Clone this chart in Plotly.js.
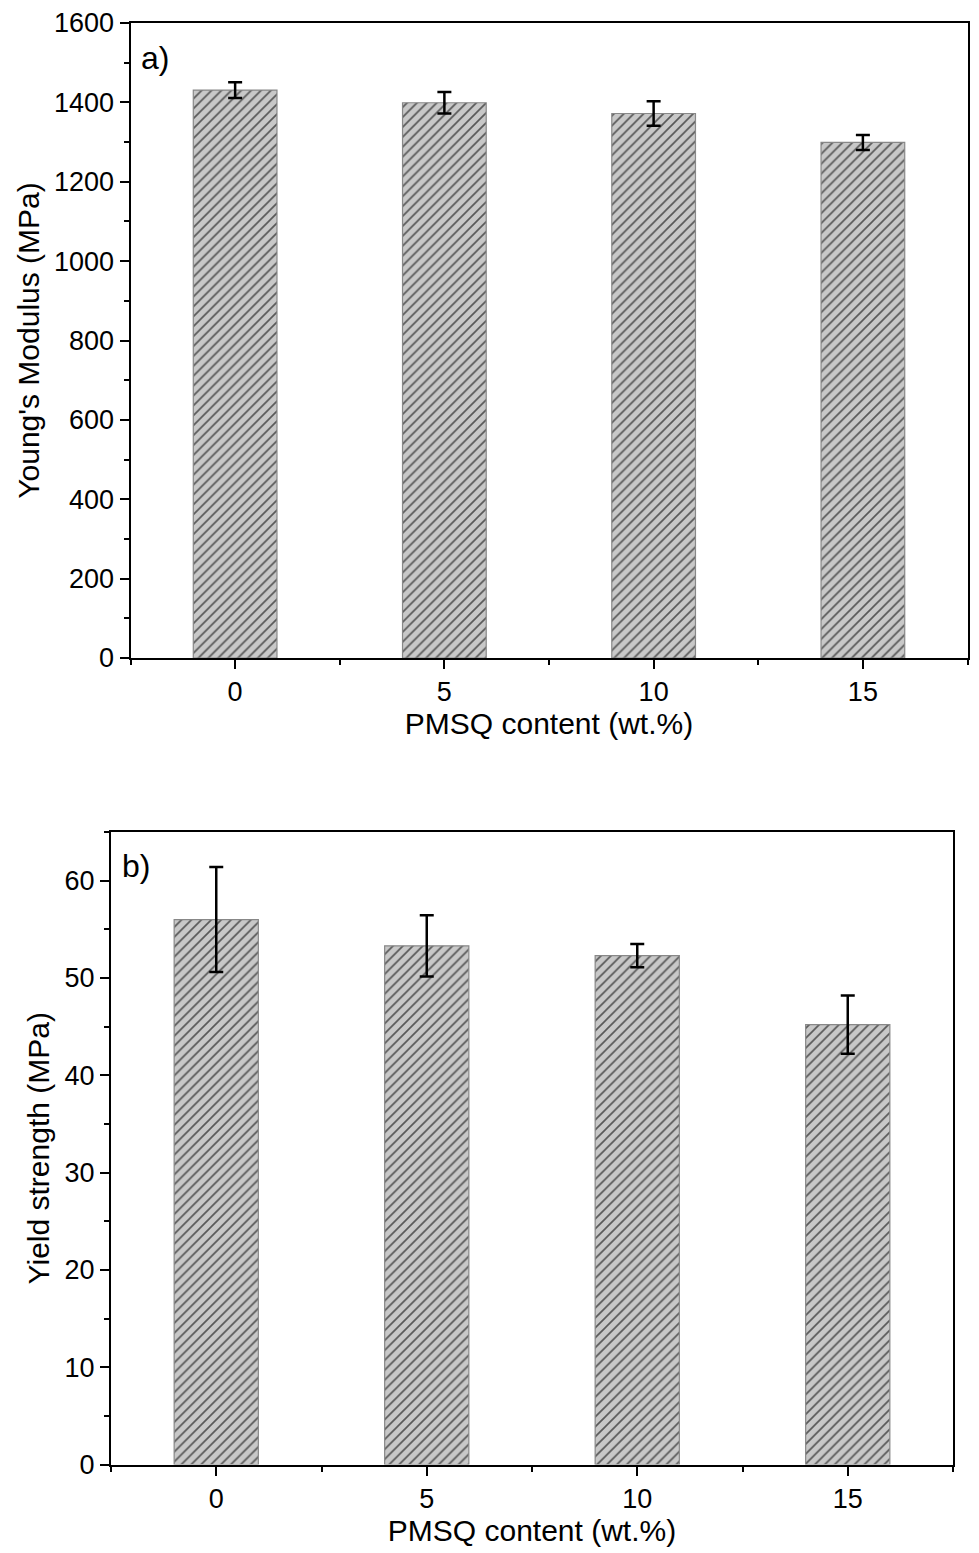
<!DOCTYPE html>
<html>
<head>
<meta charset="utf-8">
<script src="https://cdn.plot.ly/plotly-3.0.1.min.js"></script>
<style>html,body{margin:0;padding:0;background:#fff;}#chart{width:979px;height:1553px;}</style>
</head>
<body>
<div id="chart"></div>
<script>
const categories = [0, 5, 10, 15];
const tickLabels = ['0', '5', '10', '15'];
const youngsModulus = [1431, 1399, 1372, 1299];
const youngsError = [20, 27, 31, 19];
const yieldStrength = [56.0, 53.3, 52.3, 45.2];
const yieldError = [5.4, 3.15, 1.2, 3.0];

const FONT = 'Liberation Sans, Arial, sans-serif';
const pattern = {shape: '/', fgcolor: '#585858', bgcolor: '#c8c8c8', size: 7, solidity: 0.24, fillmode: 'replace'};
const barMarker = {color: '#c8c8c8', pattern: pattern, line: {color: '#888888', width: 1.2}};
const errStyle = {color: '#000', thickness: 2.5, width: 7};

const traces = [
  {type: 'bar', x: categories, y: youngsModulus, width: 2, marker: barMarker,
   error_y: Object.assign({type: 'data', array: youngsError, visible: true}, errStyle),
   xaxis: 'x', yaxis: 'y', showlegend: false, hoverinfo: 'skip'},
  {type: 'bar', x: categories, y: yieldStrength, width: 2, marker: barMarker,
   error_y: Object.assign({type: 'data', array: yieldError, visible: true}, errStyle),
   xaxis: 'x2', yaxis: 'y2', showlegend: false, hoverinfo: 'skip'}
];

function xAxis(domain, anchor) {
  return {
    domain: domain, anchor: anchor, range: [-2.5, 17.5],
    tickmode: 'array', tickvals: categories, ticktext: tickLabels,
    ticks: 'outside', ticklen: 9, tickwidth: 2, tickcolor: '#000',
    minor: {tickmode: 'array', tickvals: [-2.5, 2.5, 7.5, 12.5, 17.5], ticks: 'outside', ticklen: 5, tickwidth: 2, tickcolor: '#000'},
    showline: true, linecolor: '#000', linewidth: 2, mirror: true,
    showgrid: false, zeroline: false, fixedrange: true,
    tickfont: {family: FONT, size: 27, color: '#000'},
    title: {text: 'PMSQ content (wt.%)', font: {family: FONT, size: 30, color: '#000'}, standoff: 0}
  };
}
function yAxis(domain, anchor, range, dtick, title) {
  return {
    domain: domain, anchor: anchor, range: range,
    tick0: 0, dtick: dtick,
    ticks: 'outside', ticklen: 9, tickwidth: 2, tickcolor: '#000',
    minor: {dtick: dtick / 2, ticks: 'outside', ticklen: 5, tickwidth: 2, tickcolor: '#000'},
    showline: true, linecolor: '#000', linewidth: 2, mirror: true,
    showgrid: false, zeroline: false, fixedrange: true,
    tickfont: {family: FONT, size: 27, color: '#000'},
    title: {text: title, font: {family: FONT, size: 30, color: '#000'}, standoff: 6}
  };
}

const H = 1553, W = 979;
const layout = {
  width: W, height: H,
  margin: {l: 0, r: 0, t: 0, b: 0},
  paper_bgcolor: '#fff', plot_bgcolor: '#fff',
  bargap: 0,
  xaxis: xAxis([130.5 / W, 967.5 / W], 'y'),
  yaxis: yAxis([(H - 658) / H, (H - 23) / H], 'x', [0, 1600], 200, "Young's Modulus (MPa)"),
  xaxis2: xAxis([111 / W, 953 / W], 'y2'),
  yaxis2: yAxis([(H - 1464.5) / H, (H - 832) / H], 'x2', [0, 65], 10, 'Yield strength (MPa)'),
  annotations: [
    {text: 'a)', xref: 'paper', yref: 'paper', x: 139 / W, y: (H - 58) / H, xanchor: 'left', yanchor: 'middle', showarrow: false, font: {family: FONT, size: 32, color: '#000'}},
    {text: 'b)', xref: 'paper', yref: 'paper', x: 120 / W, y: (H - 866) / H, xanchor: 'left', yanchor: 'middle', showarrow: false, font: {family: FONT, size: 32, color: '#000'}}
  ]
};

Plotly.newPlot('chart', traces, layout, {staticPlot: true, displayModeBar: false});
</script>
</body>
</html>
